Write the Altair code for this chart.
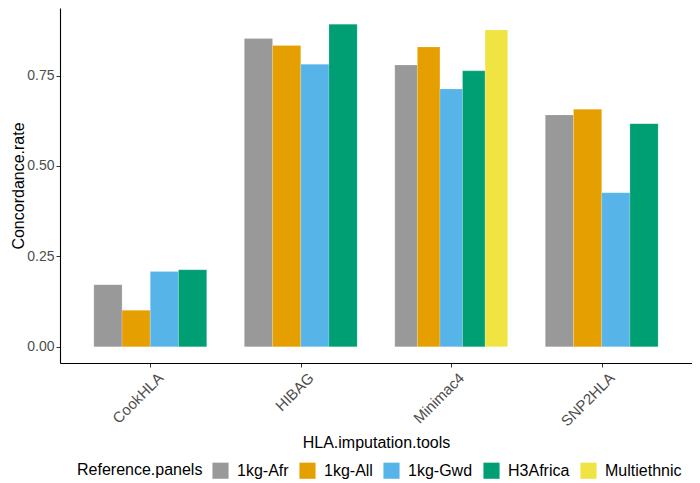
import altair as alt
import pandas as pd

tools = ["CookHLA", "HIBAG", "Minimac4", "SNP2HLA"]
panels = ["1kg-Afr", "1kg-All", "1kg-Gwd", "H3Africa", "Multiethnic"]
colors = ["#999999", "#E69F00", "#56B4E9", "#009E73", "#F0E442"]

tool_col = ["CookHLA"] * 4 + ["HIBAG"] * 4 + ["Minimac4"] * 5 + ["SNP2HLA"] * 4
panel_col = (["1kg-Afr", "1kg-All", "1kg-Gwd", "H3Africa"] * 2
             + ["1kg-Afr", "1kg-All", "1kg-Gwd", "H3Africa", "Multiethnic"]
             + ["1kg-Afr", "1kg-All", "1kg-Gwd", "H3Africa"])
rates = [0.172, 0.101, 0.208, 0.213,
         0.852, 0.833, 0.781, 0.892,
         0.779, 0.829, 0.713, 0.763, 0.876,
         0.641, 0.657, 0.426, 0.617]

df = pd.DataFrame({"tool": tool_col, "panel": panel_col, "rate": rates})

FONT = "Liberation Sans"
BAR_W = 0.75

tools_js = "[" + ",".join(f"'{t}'" for t in tools) + "]"
label_expr = tools_js + "[datum.value]"

chart = alt.Chart(df).transform_window(
    rk="row_number()", groupby=["tool"], sort=[alt.SortField("panel")]
).transform_joinaggregate(
    n="count()", groupby=["tool"]
).transform_calculate(
    idx=f"indexof({tools_js}, datum.tool)"
).transform_calculate(
    x0=f"datum.idx - {BAR_W}/2 + (datum.rk - 1) * {BAR_W} / datum.n",
).transform_calculate(
    x1=f"datum.x0 + {BAR_W} / datum.n"
).mark_bar(stroke="white", strokeWidth=0.3, strokeOpacity=0.6).encode(
    x=alt.X("x0:Q",
            scale=alt.Scale(domain=[-0.6, 3.6], nice=False, zero=False),
            axis=alt.Axis(values=[0, 1, 2, 3], labelExpr=label_expr,
                          title="HLA.imputation.tools", grid=False,
                          labelAngle=-45, labelAlign="right", labelBaseline="top",
                          labelFontSize=15, labelColor="#4D4D4D", labelFont=FONT,
                          labelPadding=3, labelOffset=5,
                          titleFont=FONT, titleFontSize=16, titleFontWeight="normal",
                          titleColor="black", titlePadding=6,
                          domainColor="black", domainWidth=1.1,
                          tickColor="#333333", tickSize=4)),
    x2="x1:Q",
    y=alt.Y("rate:Q",
            scale=alt.Scale(domain=[-0.0446, 0.9366], nice=False, zero=False),
            axis=alt.Axis(values=[0, 0.25, 0.5, 0.75], format=".2f",
                          title="Concordance.rate", grid=False,
                          labelFontSize=14, labelColor="#4D4D4D", labelFont=FONT,
                          labelPadding=2,
                          titleFont=FONT, titleFontSize=16, titleFontWeight="normal",
                          titleColor="black", titlePadding=0,
                          domainColor="black", domainWidth=1.1,
                          tickColor="#333333", tickSize=4)),
    y2=alt.datum(0),
    color=alt.Color("panel:N",
                    scale=alt.Scale(domain=panels, range=colors),
                    legend=alt.Legend(title="Reference.panels", orient="none",
                                      legendX=17, legendY=454,
                                      direction="horizontal", titleOrient="left",
                                      symbolType="square", symbolSize=260,
                                      symbolStrokeWidth=0, symbolOpacity=1,
                                      titleFont=FONT, titleFontSize=16,
                                      titleFontWeight="normal", titleColor="black",
                                      titlePadding=9,
                                      labelFont=FONT, labelFontSize=16,
                                      labelColor="black", labelOffset=8,
                                      columnPadding=10)),
).properties(
    width=632, height=355,
    autosize=alt.AutoSizeParams(type="none"),
    padding={"left": 52, "top": 0, "right": 0, "bottom": 118},
).configure_view(stroke=None)

chart.save("out.html", embed_options={"renderer": "svg", "actions": False})
